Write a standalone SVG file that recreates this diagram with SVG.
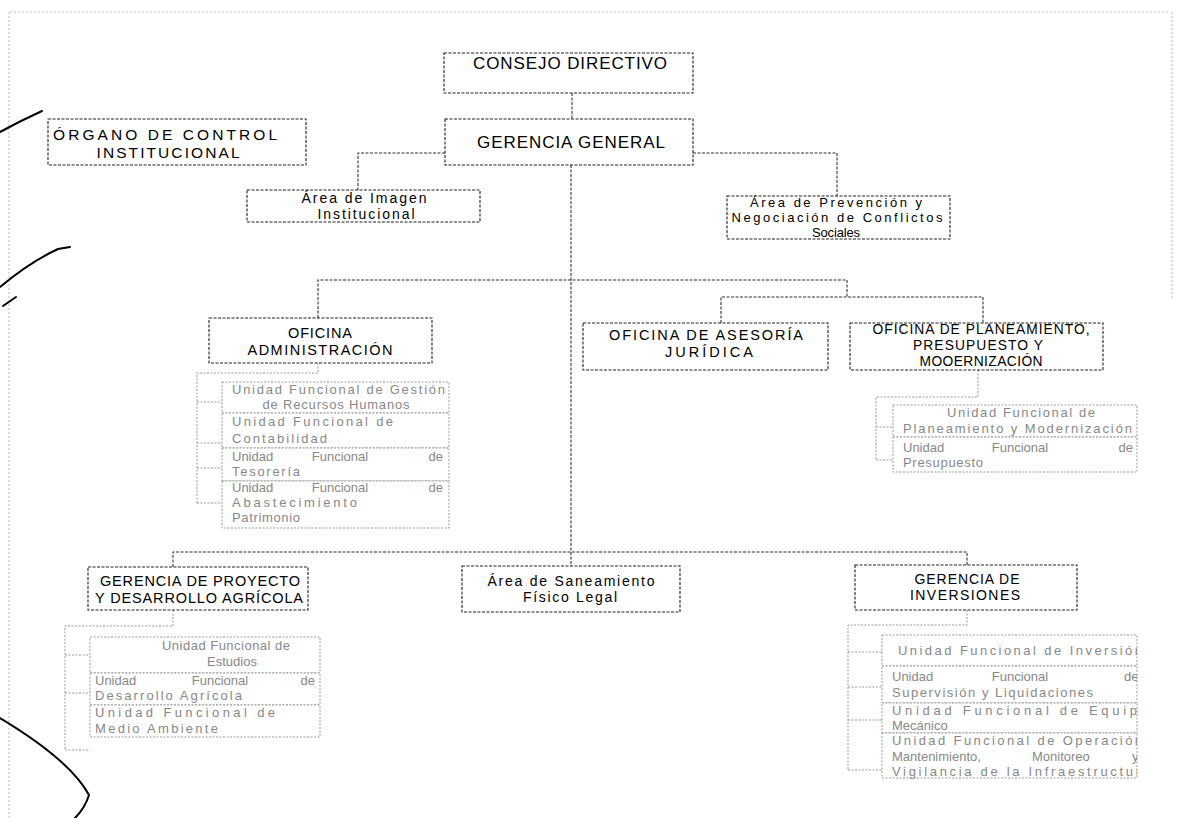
<svg xmlns="http://www.w3.org/2000/svg" width="1178" height="818" viewBox="0 0 1178 818">
<defs>
<style>
.bx{fill:#fff;stroke:#222;stroke-width:1.1;stroke-dasharray:3 1.5}
.sb{fill:#fff;stroke:#999;stroke-width:1;stroke-dasharray:2 1.5}
.ln{fill:none;stroke:#333;stroke-width:1.1;stroke-dasharray:3 1.5}
.sl{fill:none;stroke:#999;stroke-width:1;stroke-dasharray:2 1.5}
.t{font-family:"Liberation Sans",Arial,sans-serif;font-size:14.5px;fill:#000;text-anchor:middle}
.b{font-size:17px}
.o{font-size:15.5px}
.k{font-size:14px}
.n{font-size:13px}
.p{font-size:13.8px}
.s{font-family:"Liberation Sans",Arial,sans-serif;font-size:13px;fill:#888}
.e{text-anchor:end}
.m{text-anchor:middle}
.pen{fill:none;stroke:#000;stroke-width:2;stroke-linecap:round}
.edge{fill:none;stroke:#bbb;stroke-width:1;stroke-dasharray:2 2}
</style>
<clipPath id="clipInv"><rect x="882" y="635" width="255" height="145"/></clipPath>
<clipPath id="clipPlan"><rect x="893" y="405" width="244" height="68"/></clipPath>
</defs>
<rect width="1178" height="818" fill="#fff"/>

<g id="scan-marks">
<path class="edge" d="M10,12 H1170"/>
<path class="edge" d="M9,12 V818"/>
<path class="edge" d="M1172,12 V300"/>
<path class="pen" d="M0,132 Q20,121 42,111"/>
<path class="pen" d="M0,287 Q30,262 58,249 L70,247"/>
<path class="pen" d="M3,306 L16,297"/>
<path class="pen" d="M0,718 Q70,760 89,795 Q85,808 75,818"/>
</g>

<g id="connectors">
<path class="ln" d="M572,93 V119"/>
<path class="ln" d="M445,153 H358 V190"/>
<path class="ln" d="M693,153 H837 V196"/>
<path class="ln" d="M571,165 V566"/>
<path class="ln" d="M318,318 V280 H847 V297"/>
<path class="ln" d="M721,323 V297 H983 V323"/>
<path class="sl" d="M318,363 V373 H197 V503"/>
<path class="sl" d="M197,402 H222 M197,443 H222 M197,468 H222 M197,503 H222"/>
<path class="sl" d="M978,370 V397 H876 V460"/>
<path class="sl" d="M876,427 H893 M876,460 H893"/>
<path class="ln" d="M173,567 V552 H967 V565"/>
<path class="sl" d="M173,610 V626 H65 V750"/>
<path class="sl" d="M65,655 H90 M65,693 H90 M65,750 H90"/>
<path class="sl" d="M967,610 V625 H848 V770"/>
<path class="sl" d="M848,652 H882 M848,687 H882 M848,720 H882 M848,770 H882"/>
</g>

<g id="consejo-directivo">
<rect class="bx" x="444" y="53" width="249" height="40"/>
<text class="t b" x="570" y="69" textLength="194" lengthAdjust="spacing">CONSEJO DIRECTIVO</text>
</g>

<g id="gerencia-general">
<rect class="bx" x="445" y="119" width="248" height="46"/>
<text class="t b" x="571" y="148" textLength="188" lengthAdjust="spacing">GERENCIA GENERAL</text>
</g>

<g id="organo-control">
<rect class="bx" x="48" y="119" width="258" height="46"/>
<text class="t o" x="165" y="140" textLength="224" lengthAdjust="spacing">ÓRGANO DE CONTROL</text>
<text class="t o" x="168" y="158" textLength="143" lengthAdjust="spacing">INSTITUCIONAL</text>
</g>

<g id="area-imagen">
<rect class="bx" x="247" y="190" width="233" height="32"/>
<text class="t k" x="364" y="203" textLength="125" lengthAdjust="spacing">Área de Imagen</text>
<text class="t k" x="366" y="219" textLength="97" lengthAdjust="spacing">Institucional</text>
</g>

<g id="area-prevencion">
<rect class="bx" x="727" y="196" width="223" height="43"/>
<text class="t n" x="836" y="207" textLength="172" lengthAdjust="spacing">Área de Prevención y</text>
<text class="t n" x="837" y="222" textLength="211" lengthAdjust="spacing">Negociación de Conflictos</text>
<text class="t n" x="836" y="237" textLength="48" lengthAdjust="spacing">Sociales</text>
</g>

<g id="oficina-administracion">
<rect class="bx" x="209" y="318" width="223" height="45"/>
<text class="t" x="320" y="338" textLength="64" lengthAdjust="spacing">OFICINA</text>
<text class="t" x="320" y="355" textLength="145" lengthAdjust="spacing">ADMINISTRACIÓN</text>
</g>

<g id="oficina-asesoria">
<rect class="bx" x="583" y="323" width="245" height="47"/>
<text class="t" x="706" y="340" textLength="194" lengthAdjust="spacing">OFICINA DE ASESORÍA</text>
<text class="t" x="709" y="357" textLength="88" lengthAdjust="spacing">JURÍDICA</text>
</g>

<g id="oficina-planeamiento">
<rect class="bx" x="850" y="323" width="253" height="47"/>
<text class="t p" x="981" y="334" textLength="217" lengthAdjust="spacing">OFICINA DE PLANEAMIENTO,</text>
<text class="t p" x="978" y="350" textLength="130" lengthAdjust="spacing">PRESUPUESTO Y</text>
<text class="t p" x="981" y="366" textLength="123" lengthAdjust="spacing">MOOERNIZACIÓN</text>
</g>

<g id="unidades-administracion">
<rect class="sb" x="222" y="382" width="227" height="31"/>
<rect class="sb" x="222" y="413" width="227" height="35"/>
<rect class="sb" x="222" y="448" width="227" height="33"/>
<rect class="sb" x="222" y="481" width="227" height="47"/>
<text class="s" x="232" y="394" textLength="213" lengthAdjust="spacing">Unidad Funcional de Gestión</text>
<text class="s m" x="336" y="409" textLength="147" lengthAdjust="spacing">de Recursos Humanos</text>
<text class="s" x="232" y="426" textLength="161" lengthAdjust="spacing">Unidad Funcional de</text>
<text class="s" x="232" y="443" textLength="95" lengthAdjust="spacing">Contabilidad</text>
<text class="s" x="232" y="461">Unidad</text>
<text class="s m" x="340" y="461">Funcional</text>
<text class="s e" x="443" y="461">de</text>
<text class="s" x="232" y="476" textLength="68" lengthAdjust="spacing">Tesorería</text>
<text class="s" x="232" y="492">Unidad</text>
<text class="s m" x="340" y="492">Funcional</text>
<text class="s e" x="443" y="492">de</text>
<text class="s" x="232" y="507" textLength="125" lengthAdjust="spacing">Abastecimiento</text>
<text class="s" x="232" y="522" textLength="68" lengthAdjust="spacing">Patrimonio</text>
</g>

<g id="unidades-planeamiento">
<rect class="sb" x="893" y="405" width="244" height="32"/>
<rect class="sb" x="893" y="437" width="244" height="35"/>
<g clip-path="url(#clipPlan)">
<text class="s m" x="1021" y="417" textLength="148" lengthAdjust="spacing">Unidad Funcional de</text>
<text class="s" x="903" y="433" textLength="229" lengthAdjust="spacing">Planeamiento y Modernización</text>
<text class="s" x="903" y="452">Unidad</text>
<text class="s m" x="1020" y="452">Funcional</text>
<text class="s e" x="1133" y="452">de</text>
<text class="s" x="903" y="467" textLength="80" lengthAdjust="spacing">Presupuesto</text>
</g>
</g>

<g id="gerencia-proyecto">
<rect class="bx" x="88" y="567" width="220" height="43"/>
<text class="t" x="200" y="586" textLength="200" lengthAdjust="spacing">GERENCIA DE PROYECTO</text>
<text class="t" x="199" y="603" textLength="208" lengthAdjust="spacing">Y DESARROLLO AGRÍCOLA</text>
</g>

<g id="area-saneamiento">
<rect class="bx" x="462" y="566" width="218" height="46"/>
<text class="t k" x="571" y="586" textLength="167" lengthAdjust="spacing">Área de Saneamiento</text>
<text class="t k" x="570" y="602" textLength="94" lengthAdjust="spacing">Físico Legal</text>
</g>

<g id="gerencia-inversiones">
<rect class="bx" x="855" y="565" width="222" height="45"/>
<text class="t k" x="967" y="584" textLength="105" lengthAdjust="spacing">GERENCIA DE</text>
<text class="t k" x="965" y="600" textLength="110" lengthAdjust="spacing">INVERSIONES</text>
</g>

<g id="unidades-proyecto">
<rect class="sb" x="90" y="637" width="230" height="36"/>
<rect class="sb" x="90" y="673" width="230" height="32"/>
<rect class="sb" x="90" y="705" width="230" height="32"/>
<text class="s m" x="226" y="650" textLength="128" lengthAdjust="spacing">Unidad Funcional de</text>
<text class="s m" x="232" y="666">Estudios</text>
<text class="s" x="95" y="685">Unidad</text>
<text class="s m" x="220" y="685">Funcional</text>
<text class="s e" x="315" y="685">de</text>
<text class="s" x="95" y="700" textLength="147" lengthAdjust="spacing">Desarrollo Agrícola</text>
<text class="s" x="95" y="717" textLength="180" lengthAdjust="spacing">Unidad Funcional de</text>
<text class="s" x="95" y="733" textLength="123" lengthAdjust="spacing">Medio Ambiente</text>
</g>

<g id="unidades-inversiones">
<rect class="sb" x="882" y="635" width="255" height="31"/>
<rect class="sb" x="882" y="666" width="255" height="37"/>
<rect class="sb" x="882" y="703" width="255" height="30"/>
<rect class="sb" x="882" y="733" width="255" height="45"/>
<g clip-path="url(#clipInv)">
<text class="s" x="898" y="655" textLength="244" lengthAdjust="spacing">Unidad Funcional de Inversión</text>
<text class="s" x="892" y="681">Unidad</text>
<text class="s m" x="1020" y="681">Funcional</text>
<text class="s" x="1124" y="681">de</text>
<text class="s" x="892" y="697" textLength="201" lengthAdjust="spacing">Supervisión y Liquidaciones</text>
<text class="s" x="892" y="715" textLength="256" lengthAdjust="spacing">Unidad  Funcional  de  Equipo</text>
<text class="s" x="892" y="730">Mecánico</text>
<text class="s" x="892" y="745" textLength="250" lengthAdjust="spacing">Unidad Funcional de Operación</text>
<text class="s" x="892" y="761">Mantenimiento,</text>
<text class="s" x="1032" y="761">Monitoreo</text>
<text class="s" x="1132" y="761">y</text>
<text class="s" x="892" y="776" textLength="258" lengthAdjust="spacing">Vigilancia  de  la  Infraestructura</text>
</g>
</g>
</svg>
